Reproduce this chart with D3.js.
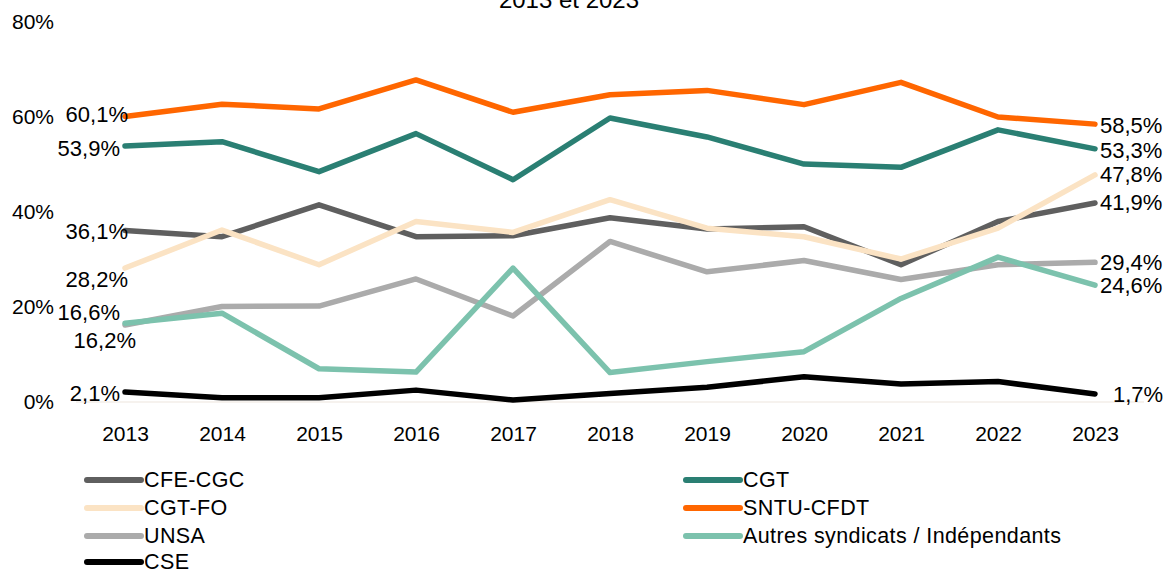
<!DOCTYPE html>
<html><head><meta charset="utf-8">
<script src="https://cdn.jsdelivr.net/npm/d3@7"></script>
<style>body{margin:0;background:#fff}svg{display:block}text{font-family:"Liberation Sans",Arial,sans-serif;fill:#000}</style>
</head><body><svg id="c" width="1167" height="571"></svg>
<script>
const years = ["2013","2014","2015","2016","2017","2018","2019","2020","2021","2022","2023"];
const cfeCgc = [36.1,34.8,41.5,34.8,35.0,38.8,36.4,36.9,28.9,38.0,41.9];
const cgt    = [53.9,54.8,48.5,56.5,46.8,59.8,55.8,50.1,49.4,57.3,53.3];
const cgtFo  = [28.2,36.2,28.9,38.0,35.7,42.6,36.6,34.8,30.1,36.6,47.8];
const sntu   = [60.1,62.7,61.7,67.8,61.0,64.7,65.6,62.6,67.3,60.0,58.5];
const unsa   = [16.2,20.1,20.2,25.9,18.1,33.8,27.4,29.8,25.8,28.9,29.4];
const autres = [16.6,18.7,7.0,6.3,28.2,6.2,8.5,10.6,21.8,30.5,24.6];
const cse    = [2.1,0.9,0.9,2.5,0.4,1.8,3.1,5.3,3.8,4.3,1.7];
const yTicks = [0,20,40,60,80];
const seriesNames = ["CFE-CGC","CGT","CGT-FO","SNTU-CFDT","UNSA","Autres syndicats / Indépendants","CSE"];
const title = "2013 et 2023";

const colors = ["#5f5f5f","#2a7f73","#fbe3c4","#ff6600","#ababab","#7cc2ad","#000000"];
const series = [cfeCgc,cgt,cgtFo,sntu,unsa,autres,cse].map((v,i)=>({name:seriesNames[i],values:v,color:colors[i]}));
const firstOff = [[0,1],[-8,3],[0,11],[0,-2],[8,15],[-8,-11],[-8,1]];
const lastOff  = [[0,0],[0,2],[0,0],[0,1],[0,0],[0,0],[13,1]];

const svg = d3.select("#c");
const x = d3.scalePoint().domain(years).range([125,1095]);
const y = d3.scaleLinear().domain([0,80]).range([402,22]);

svg.append("text").attr("x",569).attr("y",8).attr("text-anchor","middle")
  .style("font-size","24px").text(title);

svg.append("line").attr("x1",76).attr("x2",1144).attr("y1",y(0)).attr("y2",y(0))
  .attr("stroke","#f3eee8").attr("stroke-width",1.5);

const ya = svg.append("g").attr("transform","translate(54,0)")
  .call(d3.axisLeft(y).tickValues(yTicks).tickSize(0).tickPadding(0).tickFormat(d=>d+"%"));
ya.select(".domain").remove();
ya.selectAll("text").style("font-size","21px").attr("font-family",null);

const xa = svg.append("g").attr("transform",`translate(0,${y(0)})`)
  .call(d3.axisBottom(x).tickSize(0).tickPadding(24));
xa.select(".domain").remove();
xa.selectAll("text").style("font-size","21px").attr("font-family",null);

const line = d3.line().x((d,i)=>x(years[i])).y(d=>y(d));
series.forEach((s,k)=>{
  svg.append("path").attr("d",line(s.values)).attr("fill","none")
    .attr("stroke",s.color).attr("stroke-width",5.5)
    .attr("stroke-linecap","round").attr("stroke-linejoin","round");
});
const fmt = v => d3.format(".1f")(v).replace(".",",")+"%";
series.forEach((s,k)=>{
  const v0 = s.values[0], v1 = s.values[s.values.length-1];
  svg.append("text").attr("x",x(years[0])+3+firstOff[k][0]).attr("y",y(v0)+firstOff[k][1])
    .attr("text-anchor","end").attr("dominant-baseline","central").style("font-size","22px").text(fmt(v0));
  svg.append("text").attr("x",x(years[years.length-1])+5+lastOff[k][0]).attr("y",y(v1)+lastOff[k][1])
    .attr("text-anchor","start").attr("dominant-baseline","central").style("font-size","22px").text(fmt(v1));
});

const legPos = [[87,480],[686,480],[87,508],[686,508],[87,536],[686,536],[87,562]];
series.forEach((s,k)=>{
  const [lx,ly] = legPos[k];
  svg.append("line").attr("x1",lx).attr("x2",lx+54).attr("y1",ly).attr("y2",ly)
    .attr("stroke",s.color).attr("stroke-width",6).attr("stroke-linecap","round");
  svg.append("text").attr("x",lx+57).attr("y",ly).attr("dominant-baseline","central")
    .style("font-size","21.5px").style("letter-spacing","0.4px").text(s.name);
});
</script></body></html>
